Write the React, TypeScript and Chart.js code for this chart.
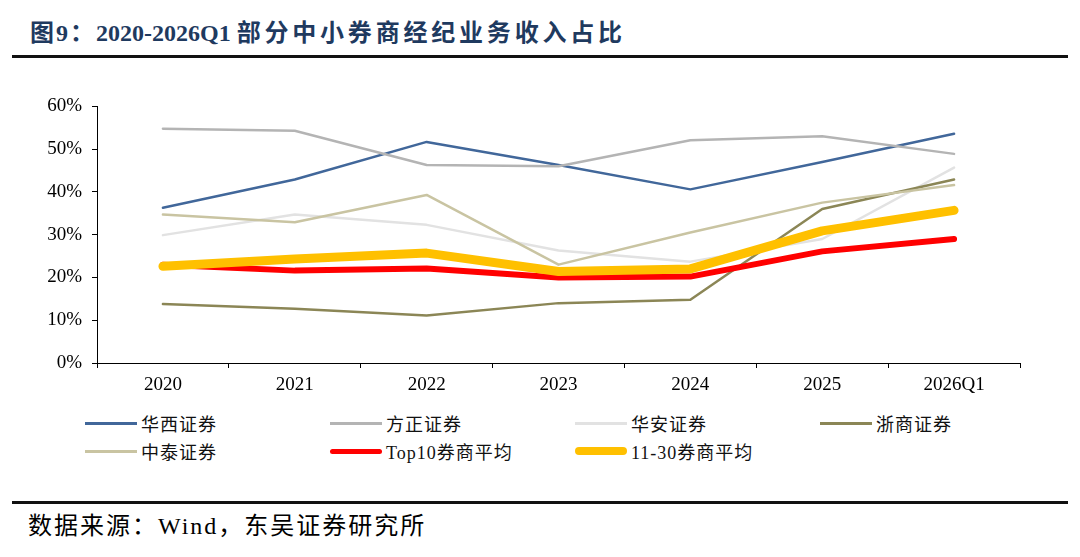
import { useEffect, useRef } from 'react';
import { Chart, registerables } from 'chart.js';

Chart.register(...registerables);

const years = ['2020', '2021', '2022', '2023', '2024', '2025', '2026Q1'];
const yTicks = [0, 10, 20, 30, 40, 50, 60];

const huaxi = [36.3, 42.9, 51.7, 46.3, 40.6, 47.0, 53.6];
const fangzheng = [54.8, 54.3, 46.3, 46.0, 52.1, 53.0, 48.9];
const huaan = [29.9, 34.7, 32.3, 26.3, 23.7, 29.0, 45.7];
const zheshang = [13.8, 12.7, 11.1, 14.0, 14.8, 36.0, 42.9];
const zhongtai = [34.7, 32.9, 39.3, 23.0, 30.5, 37.5, 41.6];
const top10Avg = [23.0, 21.6, 22.1, 20.0, 20.2, 26.1, 29.0];
const rank11to30Avg = [22.6, 24.3, 25.7, 21.4, 22.0, 30.9, 35.7];

const seriesNames = ['华西证券', '方正证券', '华安证券', '浙商证券', '中泰证券', 'Top10券商平均', '11-30券商平均'];
const seriesData = [huaxi, fangzheng, huaan, zheshang, zhongtai, top10Avg, rank11to30Avg];
const seriesColors = ['#41679a', '#b4b4b4', '#e2e2e2', '#8b8656', '#c9c4a2', '#ff0000', '#ffc000'];
const seriesWidths = [2.5, 2.5, 2.5, 2.5, 2.5, 6, 9];

const serif = '"Liberation Serif", "Noto Sans CJK SC", serif';

export default function App() {
    const canvasRef = useRef<HTMLCanvasElement | null>(null);

    useEffect(() => {
        document.body.style.margin = '0';
        if (!canvasRef.current) {
            return;
        }

        const chart = new Chart(canvasRef.current, {
            type: 'line',
            data: {
                labels: years,
                datasets: seriesNames.map((name, i) => ({
                    label: name,
                    data: seriesData[i],
                    borderColor: seriesColors[i],
                    backgroundColor: seriesColors[i],
                    borderWidth: seriesWidths[i],
                    pointRadius: 0,
                    tension: 0,
                    borderCapStyle: 'round' as const,
                    borderJoinStyle: 'round' as const,
                    // later series sit on top, like the source
                    order: seriesNames.length - i,
                })),
            },
            options: {
                responsive: true,
                maintainAspectRatio: false,
                animation: false,
                layout: { padding: { top: 12, right: 10, left: 0, bottom: 0 } },
                plugins: {
                    legend: { display: false },
                    tooltip: { enabled: false },
                },
                scales: {
                    x: {
                        offset: true,
                        border: { color: '#000', width: 1 },
                        grid: {
                            offset: true,
                            drawOnChartArea: false,
                            drawTicks: true,
                            tickLength: 5,
                            tickColor: '#000',
                        },
                        ticks: {
                            color: '#000',
                            padding: 6,
                            maxRotation: 0,
                            font: { family: serif, size: 19 },
                        },
                        afterFit: (scale) => {
                            scale.height = 32;
                        },
                    },
                    y: {
                        min: 0,
                        max: 60,
                        afterBuildTicks: (scale) => {
                            scale.ticks = yTicks.map((v) => ({ value: v }));
                        },
                        border: { color: '#000', width: 1 },
                        grid: {
                            drawOnChartArea: false,
                            drawTicks: true,
                            tickLength: 5,
                            tickColor: '#000',
                        },
                        ticks: {
                            color: '#000',
                            padding: 10,
                            font: { family: serif, size: 19 },
                            callback: (v) => v + '%',
                        },
                        afterFit: (scale) => {
                            scale.width = 77;
                        },
                    },
                },
            },
        });
        return () => chart.destroy();
    }, []);

    const legendCols = [85, 330, 575, 820];
    const legendRows = [423, 451];

    return (
        <div style={{ position: 'relative', width: 1080, height: 557, background: '#fff', fontFamily: serif, overflow: 'hidden' }}>
            <div
                style={{
                    position: 'absolute',
                    left: 30,
                    top: 17,
                    fontSize: 24,
                    fontWeight: 'bold',
                    color: '#1f3a5f',
                    whiteSpace: 'nowrap',
                    lineHeight: '32px',
                }}
            >
                <span style={{ letterSpacing: 2 }}>图9：</span>
                <span>2020-2026Q1 </span>
                <span style={{ letterSpacing: 3.8 }}>部分中小券商经纪业务收入占比</span>
            </div>
            <div style={{ position: 'absolute', left: 12, top: 55, width: 1056, height: 3, background: '#111' }} />

            <div style={{ position: 'absolute', left: 20, top: 85, width: 1010, height: 310 }}>
                <canvas ref={canvasRef} />
            </div>

            {seriesNames.map((name, i) => {
                const left = legendCols[i % 4];
                const top = legendRows[Math.floor(i / 4)];
                return (
                    <div key={name} style={{ position: 'absolute', left, top: top - 12, height: 24, display: 'flex', alignItems: 'center', whiteSpace: 'nowrap' }}>
                        <div
                            style={{
                                width: 52,
                                height: Math.max(3, seriesWidths[i] - 1),
                                background: seriesColors[i],
                                borderRadius: seriesWidths[i] > 3 ? 4 : 0,
                            }}
                        />
                        <span style={{ marginLeft: 4, fontSize: 18, color: '#111', letterSpacing: 1 }}>{name}</span>
                    </div>
                );
            })}

            <div style={{ position: 'absolute', left: 12, top: 501, width: 1056, height: 3, background: '#111' }} />
            <div style={{ position: 'absolute', left: 28, top: 511, fontSize: 24, letterSpacing: 2, color: '#000', whiteSpace: 'nowrap', lineHeight: '30px' }}>
                数据来源：Wind，东吴证券研究所
            </div>
        </div>
    );
}
